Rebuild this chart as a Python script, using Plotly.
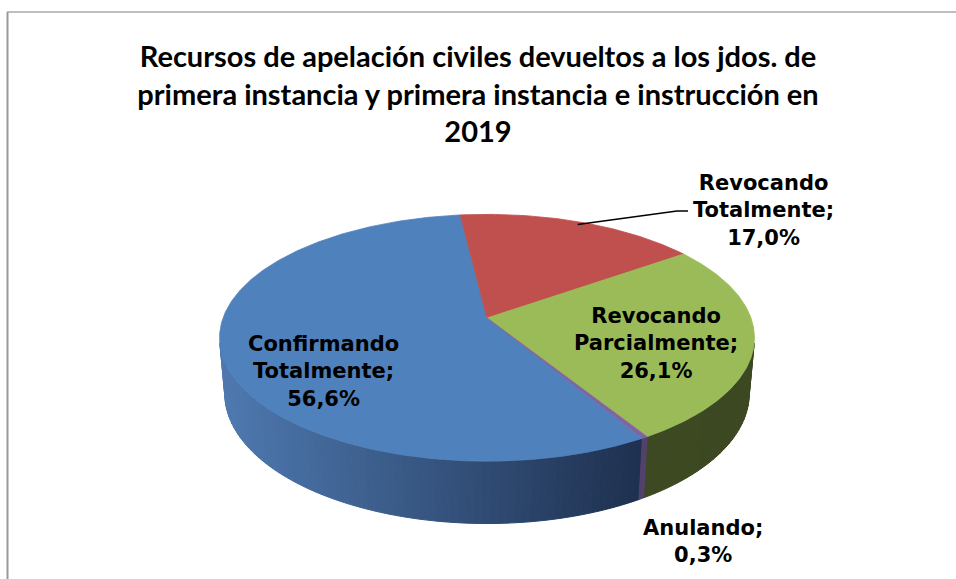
import numpy as np
import plotly.graph_objects as go

# ---------------- data ----------------
categories = ["Confirmando Totalmente", "Revocando Totalmente",
              "Revocando Parcialmente", "Anulando"]
values = [56.6, 17.0, 26.1, 0.3]
title_lines = ["Recursos de apelación civiles devueltos a los jdos. de",
               "primera instancia y primera instancia e instrucción en",
               "2019"]

# ---------------- style ----------------
top_colors = ["#4F81BD", "#C0504D", "#9BBB59", "#8064A2"]
side_light = [(78, 121, 176), (150, 60, 58), (64, 77, 36), (96, 75, 122)]
side_dark = [(30, 48, 79), (110, 40, 38), (60, 72, 33), (80, 62, 104)]
label_pos = [(323, 371), (763, 210), (656, 343), (703, 541)]
W, H = 956, 579

# 3D projection parameters (pixel space)
CX, CY = 487.0, 318.0
PHI = np.radians(27.1)
DIST = 5.56
K = 264.0 * DIST
THICK = 0.24
FIRST_SLICE_ANGLE = 149.5  # degrees, clockwise from back


def project(theta_deg, r, y):
    th = np.radians(theta_deg)
    X = r * np.sin(th)
    Z = -r * np.cos(th)
    depth = DIST - y * np.sin(PHI) - Z * np.cos(PHI)
    sx = CX + K * X / depth
    sy = CY - K * (y * np.cos(PHI) - Z * np.sin(PHI)) / depth
    return sx, sy


def rgb(c):
    return "rgb(%d,%d,%d)" % tuple(int(round(v)) for v in c)


total = sum(values)
spans = [v / total * 360.0 for v in values]
starts = []
a = FIRST_SLICE_ANGLE
for s in spans:
    starts.append(a)
    a += s

fig = go.Figure()

# visible side range
lim = np.degrees(np.arccos(-1.0 / (DIST * np.cos(PHI))))
vis_ranges = [(lim, 360 - lim), (lim + 360, 720 - lim)]

# global x extents of the visible side for shading
xl, _ = project(360 - lim, 1, 0)
xr, _ = project(lim, 1, 0)

# ---- side walls ----
for i, (st, sp) in enumerate(zip(starts, spans)):
    a0 = st % 360
    a1 = a0 + sp
    for lo, hi in vis_ranges:
        b0, b1 = max(a0, lo), min(a1, hi)
        if b1 <= b0:
            continue
        n = max(1, int(np.ceil((b1 - b0) / 1.5)))
        edges = np.linspace(b0, b1, n + 1)
        for j in range(n):
            th = np.linspace(edges[j], edges[j + 1], 4)
            tx, ty = project(th, 1, 0)
            bx, by = project(th[::-1], 1, -THICK)
            xs = np.concatenate([tx, bx, tx[:1]])
            ys = np.concatenate([ty, by, ty[:1]])
            xm = tx.mean()
            f = np.clip((xm - xl) / (xr - xl), 0, 1)
            if i == 0:
                f = np.clip((xm - xl) / (project(a0, 1, 0)[0] - xl), 0, 1)
            col = [side_light[i][k] + (side_dark[i][k] - side_light[i][k]) * f for k in range(3)]
            fig.add_trace(go.Scatter(x=xs, y=ys, mode="lines", fill="toself",
                                     fillcolor=rgb(col),
                                     line=dict(color=rgb(col), width=1),
                                     hoverinfo="skip", showlegend=False))

# ---- top faces ----
for i, (st, sp) in enumerate(zip(starts, spans)):
    th = np.linspace(st, st + sp, max(3, int(sp * 2)))
    ax_, ay_ = project(th, 1, 0)
    cx0, cy0 = project(0, 0, 0)
    xs = np.concatenate([[cx0], ax_, [cx0]])
    ys = np.concatenate([[cy0], ay_, [cy0]])
    fig.add_trace(go.Scatter(x=xs, y=ys, mode="lines", fill="toself",
                             fillcolor=top_colors[i],
                             line=dict(color=top_colors[i], width=0.8),
                             hoverinfo="skip", showlegend=False,
                             name=categories[i]))

# ---- leader line for the outside label (Revocando Totalmente) ----
mid = starts[1] + spans[1] / 2
sx0, sy0 = project(mid, 0.97, 0)
lx, ly = label_pos[1]
fig.add_trace(go.Scatter(x=[sx0, lx - 86, lx - 75], y=[sy0, ly + 1, ly + 1],
                         mode="lines", line=dict(color="black", width=1.5),
                         hoverinfo="skip", showlegend=False))

# ---- labels ----
for i, cat in enumerate(categories):
    words = cat.split(" ")
    pct = ("%.1f" % values[i]).replace(".", ",") + "%"
    txt = "<br>".join(words[:-1] + [words[-1] + ";", pct])
    x, y = label_pos[i]
    fig.add_annotation(x=x, y=y, xref="x", yref="y", text="<b>" + txt + "</b>",
                       showarrow=False, xanchor="center", yanchor="middle",
                       font=dict(family="DejaVu Sans", size=21, color="black"))

# ---- frame ----
fig.add_shape(type="line", xref="x", yref="y", x0=7.5, x1=7.5, y0=12, y1=H,
              line=dict(color="#9A9A9A", width=2))
fig.add_shape(type="line", xref="x", yref="y", x0=7, x1=W, y0=12, y1=12,
              line=dict(color="#A8A8A8", width=1.5))

fig.update_layout(
    width=W, height=H, autosize=False,
    margin=dict(l=0, r=0, t=0, b=0),
    paper_bgcolor="white", plot_bgcolor="white",
    title=dict(text="<b>" + "<br>".join(title_lines) + "</b>",
               x=0.5, xanchor="center", xref="paper",
               y=1 - 67 / H, yanchor="middle", yref="container",
               font=dict(family="Lato", size=29, color="black")),
    xaxis=dict(range=[0, W], visible=False, fixedrange=True),
    yaxis=dict(range=[H, 0], visible=False, fixedrange=True),
    showlegend=False,
)

fig.write_html("out.html", post_script="document.body.style.margin='0';",
               config={"displayModeBar": False, "staticPlot": True})
